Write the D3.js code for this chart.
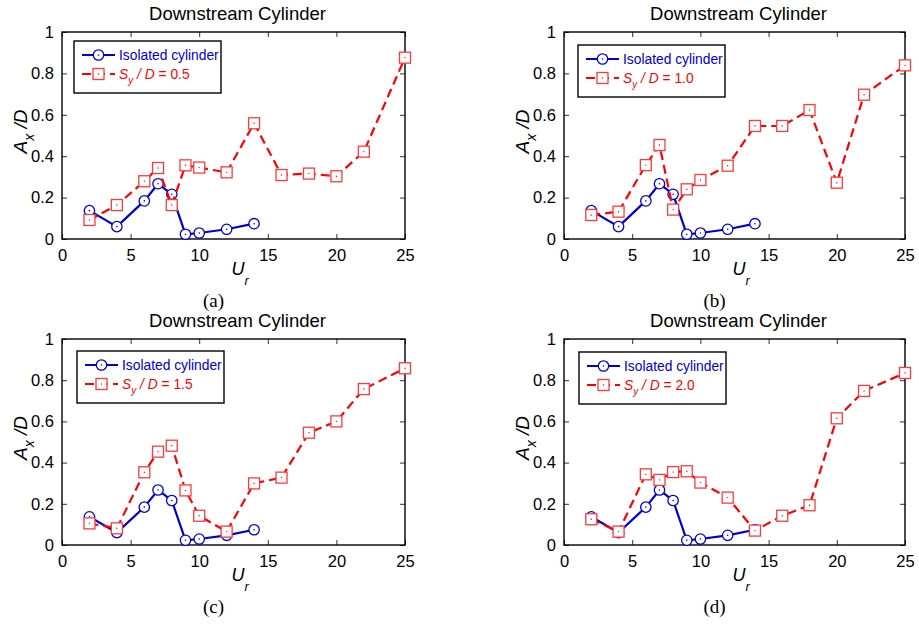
<!DOCTYPE html>
<html>
<head>
<meta charset="utf-8">
<script src="https://cdn.jsdelivr.net/npm/d3@7"></script>
<style>
body{margin:0;background:#fff;}
svg text{font-family:"Liberation Sans",Arial,Helvetica,sans-serif;fill:#000;}
.frame{fill:none;stroke:#000;stroke-width:1.4;}
.tick line{stroke:#333;stroke-width:1;}
.legendBox{fill:#fff;stroke:#000;stroke-width:1.4;}
</style>
</head>
<body>
<svg id="chart" width="919" height="624"></svg>
<script>
// reduced velocity values
var urSpread = [2, 4, 6, 7, 8, 9, 10, 12, 14, 16, 18, 20, 22, 25];
var urIsolated = [2, 4, 6, 7, 8, 9, 10, 12, 14];

// A_x / D
var axIsolated = [0.137, 0.060, 0.184, 0.267, 0.216, 0.023, 0.029, 0.047, 0.074];
var axSy05 = [0.092, 0.164, 0.279, 0.343, 0.164, 0.356, 0.345, 0.322, 0.559, 0.309, 0.316, 0.303, 0.422, 0.876];
var axSy10 = [0.116, 0.132, 0.357, 0.454, 0.142, 0.240, 0.285, 0.354, 0.546, 0.546, 0.623, 0.272, 0.697, 0.839];
var axSy15 = [0.105, 0.081, 0.353, 0.453, 0.482, 0.265, 0.142, 0.065, 0.299, 0.327, 0.545, 0.600, 0.757, 0.858];
var axSy20 = [0.125, 0.065, 0.343, 0.316, 0.354, 0.358, 0.303, 0.230, 0.070, 0.142, 0.193, 0.615, 0.748, 0.835];

var spacingLabels = ["0.5", "1.0", "1.5", "2.0"];
var panelTags = ["(a)", "(b)", "(c)", "(d)"];
var xTickVals = [0, 5, 10, 15, 20, 25];
var yTickVals = [0, 0.2, 0.4, 0.6, 0.8, 1];
var titleText = "Downstream Cylinder";
var isolatedLabel = "Isolated cylinder";

var spreadSeries = [axSy05, axSy10, axSy15, axSy20];

// layout
var colLeft = [62, 564], colWidth = [343, 341];
var rowTop = [32, 339], rowHeight = [207, 206];
var legendOffset = [[12, 9], [14, 13], [15, 12], [15, 13]];

var blue = "#0000d2";
var red = "#ff0000";
var redMarker = "#ff3a3a";

var svg = d3.select("#chart");

for (var p = 0; p < 4; p++) {
  drawPanel(p);
}

function drawPanel(p) {
  var col = p % 2, row = Math.floor(p / 2);
  var left = colLeft[col], top = rowTop[row];
  var width = colWidth[col], height = rowHeight[row];

  var x = d3.scaleLinear().domain([0, 25]).range([0, width]);
  var y = d3.scaleLinear().domain([0, 1]).range([height, 0]);

  var g = svg.append("g").attr("transform", "translate(" + left + "," + top + ")");

  // axes, ticks pointing inward
  var bottomAxis = g.append("g").attr("transform", "translate(0," + height + ")")
    .call(d3.axisBottom(x).tickValues(xTickVals).tickSizeInner(-5).tickSizeOuter(0).tickPadding(10).tickFormat(d3.format("d")));
  var topAxis = g.append("g")
    .call(d3.axisTop(x).tickValues(xTickVals).tickSizeInner(-5).tickSizeOuter(0).tickFormat(""));
  var leftAxis = g.append("g")
    .call(d3.axisLeft(y).tickValues(yTickVals).tickSizeInner(-5).tickSizeOuter(0).tickPadding(8).tickFormat(function(d){ return d === 0 || d === 1 ? d : d3.format(".1f")(d); }));
  var rightAxis = g.append("g").attr("transform", "translate(" + width + ",0)")
    .call(d3.axisRight(y).tickValues(yTickVals).tickSizeInner(-5).tickSizeOuter(0).tickFormat(""));

  [bottomAxis, topAxis, leftAxis, rightAxis].forEach(function(a){
    a.select(".domain").remove();
    a.selectAll("text").style("font-size", "16.5px").attr("fill", "#000");
  });

  g.append("rect").attr("class", "frame")
    .attr("x", 0).attr("y", 0).attr("width", width).attr("height", height);

  // isolated cylinder
  var isoData = urIsolated.map(function(u, i){ return [u, axIsolated[i]]; });
  var spreadData = urSpread.map(function(u, i){ return [u, spreadSeries[p][i]]; });
  var line = d3.line().x(function(d){ return x(d[0]); }).y(function(d){ return y(d[1]); });

  g.append("path").datum(isoData)
    .attr("d", line).attr("fill", "none").attr("stroke", blue).attr("stroke-width", 2.2);
  drawCircles(g, isoData, x, y);

  g.append("path").datum(spreadData)
    .attr("d", line).attr("fill", "none").attr("stroke", red).attr("stroke-width", 2.2)
    .attr("stroke-dasharray", "9,5");
  drawSquares(g, spreadData, x, y);

  // title
  g.append("text").attr("x", width / 2 + 4).attr("y", -12)
    .attr("text-anchor", "middle").style("font-size", "18.5px").text(titleText);

  // y label A_x / D
  var yl = g.append("text")
    .attr("transform", "translate(-35," + (height / 2 - 4) + ") rotate(-90)")
    .attr("text-anchor", "middle").style("font-size", "19px").style("font-style", "italic");
  yl.append("tspan").text("A");
  yl.append("tspan").attr("dy", 7).style("font-size", "14px").text("x");
  yl.append("tspan").attr("dy", -7).text(" /D");

  // x label U_r
  var xl = g.append("text").attr("x", width / 2 - 2).attr("y", height + 36)
    .style("font-size", "18px").style("font-style", "italic");
  xl.append("tspan").text("U");
  xl.append("tspan").attr("dy", 10).style("font-size", "13px").text("r");

  // panel tag
  g.append("text").attr("x", width / 2 - 20).attr("y", height + 68)
    .attr("text-anchor", "middle")
    .style("font-family", "'Liberation Serif','Times New Roman',serif").style("font-size", "19px")
    .text(panelTags[p]);

  // legend
  var lg = g.append("g").attr("transform", "translate(" + legendOffset[p][0] + "," + legendOffset[p][1] + ")");
  lg.append("rect").attr("class", "legendBox").attr("width", 147).attr("height", 52);

  lg.append("line").attr("x1", 8).attr("x2", 41).attr("y1", 14).attr("y2", 14)
    .attr("stroke", blue).attr("stroke-width", 2.2);
  drawCircles(lg, [[24.5, 14]], null, null);
  lg.append("text").attr("x", 45).attr("y", 14).attr("dy", "0.36em")
    .style("font-size", "13.8px").style("fill", blue).text(isolatedLabel);

  lg.append("line").attr("x1", 8).attr("x2", 41).attr("y1", 33).attr("y2", 33)
    .attr("stroke", red).attr("stroke-width", 2.2).attr("stroke-dasharray", "9,5");
  drawSquares(lg, [[24.5, 33]], null, null);
  var st = lg.append("text").attr("x", 45).attr("y", 33).attr("dy", "0.36em")
    .style("font-size", "13.8px").style("fill", red);
  st.append("tspan").style("font-style", "italic").text("S");
  st.append("tspan").attr("dy", 5).style("font-style", "italic").style("font-size", "10px").text("y");
  st.append("tspan").attr("dy", -5).style("font-style", "italic").text(" / D");
  st.append("tspan").text(" = " + spacingLabels[p]);
}

function drawCircles(g, data, x, y) {
  var px = x ? function(d){ return x(d[0]); } : function(d){ return d[0]; };
  var py = y ? function(d){ return y(d[1]); } : function(d){ return d[1]; };
  var m = g.append("g").selectAll("g").data(data).enter().append("g")
    .attr("transform", function(d){ return "translate(" + px(d) + "," + py(d) + ")"; });
  m.append("circle").attr("r", 5.2).attr("fill", "#fff").attr("stroke", blue).attr("stroke-width", 1.3);
  m.append("circle").attr("r", 0.8).attr("fill", blue);
}

function drawSquares(g, data, x, y) {
  var px = x ? function(d){ return x(d[0]); } : function(d){ return d[0]; };
  var py = y ? function(d){ return y(d[1]); } : function(d){ return d[1]; };
  var m = g.append("g").selectAll("g").data(data).enter().append("g")
    .attr("transform", function(d){ return "translate(" + px(d) + "," + py(d) + ")"; });
  m.append("rect").attr("x", -5.5).attr("y", -5.5).attr("width", 11).attr("height", 11)
    .attr("fill", "#fff").attr("stroke", redMarker).attr("stroke-width", 1.3);
  m.append("circle").attr("r", 0.7).attr("fill", red);
}
</script>
</body>
</html>
